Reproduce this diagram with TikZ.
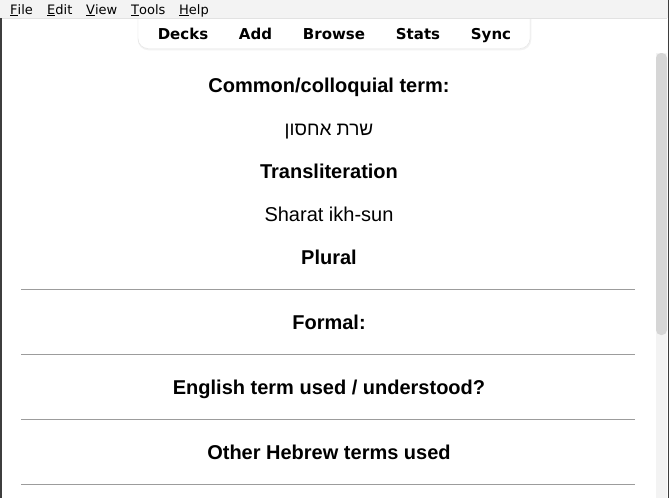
\documentclass[tikz,border=0pt]{standalone}
\usepackage{fontspec}
\setmainfont{Liberation Sans}
\newfontfamily\uifont{DejaVu Sans}
\newfontfamily\hebfont[Script=Hebrew]{Liberation Sans}
\TeXXeTstate=1
\usetikzlibrary{calc}
\usepackage{xcolor}
\definecolor{menubg}{HTML}{F3F3F3}
\definecolor{menuline}{HTML}{E2E2E2}
\definecolor{framegray}{HTML}{3E3E3E}
\definecolor{barline}{HTML}{E3E3E3}
\definecolor{trackgray}{HTML}{F3F3F3}
\definecolor{thumbgray}{HTML}{D6D6D6}
\definecolor{rulegray}{HTML}{9C9C9C}

\begin{document}
\begin{tikzpicture}[x=1pt,y=-1pt,
  menuitem/.style={anchor=base west, inner sep=0, font=\uifont\fontsize{13}{15}\selectfont},
  navitem/.style={anchor=base, inner sep=0, font=\uifont\bfseries\fontsize{15}{18}\selectfont},
  field/.style={anchor=base, inner sep=0, font=\bfseries\fontsize{20}{24}\selectfont},
  value/.style={anchor=base, inner sep=0, font=\fontsize{20}{24}\selectfont},
  sep/.style={draw=rulegray, line width=1.3pt}]
\useasboundingbox[fill=white] (0,0) rectangle (669,498);
% toolbar
\draw[black!5, line width=1.5pt, rounded corners=10pt] (138.5,10) -- (138.5,49.5) -- (530.5,49.5) -- (530.5,10);
\draw[barline, fill=white, rounded corners=10pt] (138,10) -- (138,48.5) -- (530,48.5) -- (530,10);
% menu bar
\fill[menubg] (0,0) rectangle (669,18);
\draw[menuline] (0,18) -- (667,18);
\foreach \x/\t [count=\i] in {10/{\underline{F}ile}, 47/{\underline{E}dit}, 86/{\underline{V}iew}, 131/{\underline{T}ools}, 179/{\underline{H}elp}} {
  \node[menuitem] (menu\i) at (\x,14) {\t};
}
\foreach \x/\t in {183/Decks, 255.5/Add, 334/Browse, 418/Stats, 491/Sync} {
  \node[navitem] (nav-\t) at (\x,39.5) {\t};
}
% card
\node[field] (common) at (329,92.5) {Common/colloquial term:};
\node[value] (hebrew) at (329,135.5) {\hebfont\fontsize{19}{23}\selectfont\beginR שרת אחסון\endR};
\node[field] (translit) at (329,178.5) {Transliteration};
\node[value] (sharat) at (329,221.5) {Sharat ikh-sun};
\node[field] (plural) at (329,264.5) {Plural};
\node[field] (formal) at (329,329) {Formal:};
\node[field] (english) at (329,394) {English term used / understood?};
\node[field] (other) at (329,459) {Other Hebrew terms used};
\foreach \y in {289.5,354.5,419.5,484.5} {
  \draw[sep] (21,\y) -- (635,\y);
}
% scrollbar and frame
\fill[trackgray] (656,53) rectangle (667,498);
\fill[thumbgray, rounded corners=5pt] (656,53) rectangle (667,335);
\fill[framegray] (0,18) rectangle (1.5,498);
\fill[framegray] (667.5,0) rectangle (669,498);
\end{tikzpicture}
\end{document}
